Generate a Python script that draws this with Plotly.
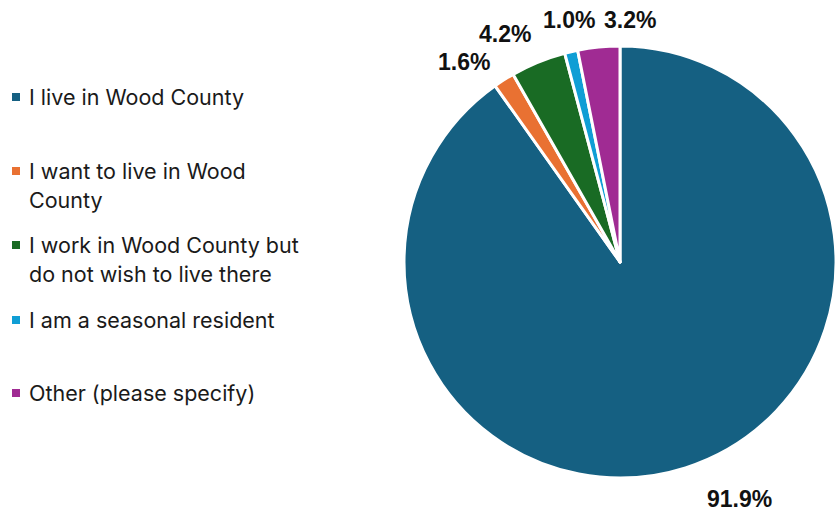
import plotly.graph_objects as go

# Survey responses: relationship to Wood County
categories = [
    "I live in Wood County",
    "I want to live in Wood County",
    "I work in Wood County but do not wish to live there",
    "I am a seasonal resident",
    "Other (please specify)",
]
percentages = [91.9, 1.6, 4.2, 1.0, 3.2]
colors = ["#156082", "#E97132", "#196B24", "#0F9ED5", "#A02B93"]

# Wrapped legend lines for each category
legend_lines = [
    ["I live in Wood County"],
    ["I want to live in Wood", "County"],
    ["I work in Wood County but", "do not wish to live there"],
    ["I am a seasonal resident"],
    ["Other (please specify)"],
]

W, H = 836, 513

# pixel layout helpers
def px_x(x):
    return x / W

def px_y(y):
    return 1 - y / H

cx, cy, r = 620, 262, 216

fig = go.Figure(
    go.Pie(
        labels=categories,
        values=percentages,
        sort=False,
        direction="clockwise",
        rotation=0,
        textinfo="none",
        hoverinfo="label+percent",
        marker=dict(colors=colors, line=dict(color="white", width=3)),
        domain=dict(x=[px_x(cx - r), px_x(cx + r)], y=[px_y(cy + r), px_y(cy - r)]),
        showlegend=False,
    )
)

# Percentage labels around the pie
label_pos = [(739, 499), (464, 62), (505, 34), (569, 20), (630, 20)]
annotations = []
for val, (lx, ly) in zip(percentages, label_pos):
    annotations.append(
        dict(
            x=px_x(lx), y=px_y(ly), xref="paper", yref="paper",
            text=f"<b>{val:.1f}%</b>", showarrow=False,
            xanchor="center", yanchor="middle", borderpad=0,
            font=dict(family="Liberation Sans, Arial, sans-serif", size=23, color="#111111"),
        )
    )

# Legend drawn as colored squares with wrapped text
legend_top = [97, 171, 245, 320, 393]
line_gap = 29
shapes = []
for color, lines, ty in zip(colors, legend_lines, legend_top):
    shapes.append(
        dict(
            type="rect", xref="paper", yref="paper",
            x0=px_x(12), x1=px_x(20), y0=px_y(ty + 4), y1=px_y(ty - 4),
            fillcolor=color, line=dict(width=0),
        )
    )
    for i, line in enumerate(lines):
        annotations.append(
            dict(
                x=px_x(27), y=px_y(ty + i * line_gap), xref="paper", yref="paper",
                text=line, showarrow=False, xanchor="left", yanchor="middle",
                font=dict(family="Inter, sans-serif", size=21.5, color="#1a1a1a"),
            )
        )

fig.update_layout(
    width=W, height=H,
    margin=dict(l=0, r=0, t=0, b=0),
    paper_bgcolor="white", plot_bgcolor="white",
    annotations=annotations, shapes=shapes,
)

fig.write_html("out.html")
